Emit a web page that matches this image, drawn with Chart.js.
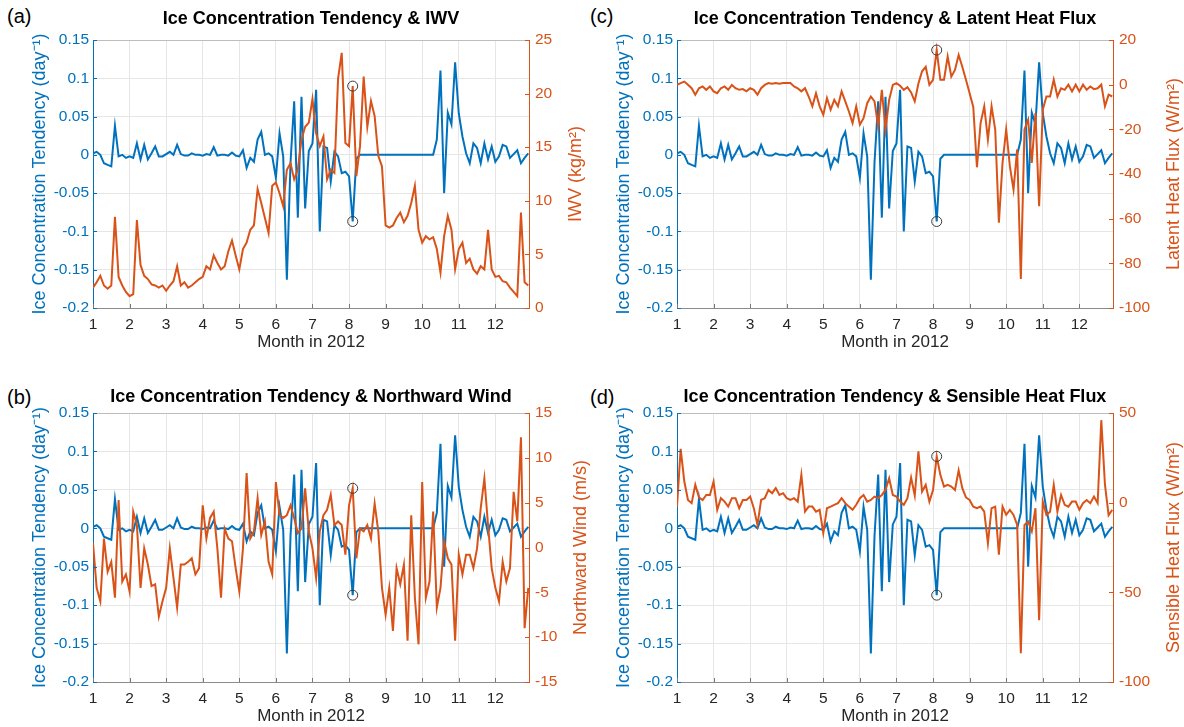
<!DOCTYPE html>
<html>
<head>
<meta charset="utf-8">
<script src="https://cdn.jsdelivr.net/npm/chart.js@4.4.1/dist/chart.umd.min.js"></script>
<style>
  body { margin: 0; background: #fff; width: 1184px; height: 727px; overflow: hidden; position: relative; font-family: "Liberation Sans", Arial, Helvetica, sans-serif; }
  canvas { position: absolute; }
  .tag { position: absolute; font-size: 20px; color: #000; }
</style>
</head>
<body>
<div class="tag" style="left:7px;top:5px">(a)</div>
<div class="tag" style="left:590px;top:5px">(c)</div>
<div class="tag" style="left:7px;top:386px">(b)</div>
<div class="tag" style="left:590px;top:386px">(d)</div>
<canvas id="pa" width="592" height="363" style="left:0;top:0"></canvas>
<canvas id="pc" width="600" height="363" style="left:584px;top:0"></canvas>
<canvas id="pb" width="592" height="364" style="left:0;top:363px"></canvas>
<canvas id="pd" width="600" height="364" style="left:584px;top:363px"></canvas>
<script>
// sample positions, in months of 2012 (every ~3 days)
const months = Array.from({ length: 120 }, (_, i) => +(1 + i / 10).toFixed(1));
const monthTicks = [1, 2, 3, 4, 5, 6, 7, 8, 9, 10, 11, 12];

// ice concentration tendency (day^-1), shared by all panels
const iceTendency = [
  0.002, 0.004, 0, -0.011, -0.013, -0.015, 0.038, -0.002, 0, -0.004,
  -0.002, -0.004, 0.015, -0.006, 0.013, -0.006, 0.002, 0.011, -0.002, -0.002,
  0.001, 0.004, 0, 0.013, 0.001, -0.001, -0.001, 0.002, 0, 0,
  -0.001, 0.001, 0, 0.010, -0.001, 0, 0, -0.001, 0.003, -0.001,
  -0.002, 0.006, -0.017, -0.004, -0.009, 0.020, 0.030, 0, 0.002, -0.002,
  -0.030, 0.028, -0.002, -0.163, -0.010, 0.070, -0.082, 0.076, -0.070, 0.005,
  0.015, 0.085, -0.100, 0.011, 0.009, -0.035, 0.004, -0.002, -0.024, -0.022,
  -0.028, -0.087, -0.005, 0, 0, 0, 0, 0, 0, 0,
  0, 0, 0, 0, 0, 0, 0, 0, 0, 0,
  0, 0, 0, 0, 0.020, 0.110, -0.050, 0.055, 0.040, 0.121,
  0.054, 0.024, 0.002, -0.011, 0.015, 0.009, -0.011, 0.015, -0.006, 0.011,
  -0.009, -0.002, 0.013, 0.011, -0.004, 0.001, 0.006, -0.011, -0.004, 0.002
];
const iwv = [
  1.9, 2.4, 3.0, 2.1, 1.8, 2.1, 8.5, 2.9, 2.1, 1.5,
  1.1, 1.3, 8.2, 4.0, 3.0, 2.7, 2.2, 2.1, 1.9, 2.1,
  1.6, 2.1, 2.5, 3.9, 2.1, 2.4, 1.9, 2.1, 2.4, 2.7,
  2.9, 3.9, 3.6, 4.9, 4.2, 3.6, 3.9, 5.3, 6.3, 4.9,
  3.6, 5.5, 6.1, 7.3, 7.7, 11.1, 9.8, 8.4, 7.0, 11.4,
  11.7, 10.7, 9.5, 12.9, 13.5, 12.0, 12.9, 15.7, 16.9, 17.3,
  19.5, 16.3, 15.1, 16.0, 12.0, 12.9, 12.6, 21.4, 23.8, 15.4,
  15.1, 20.7, 12.3, 15.1, 21.6, 16.9, 19.3, 17.9, 14.2, 13.2,
  7.7, 7.5, 7.7, 8.4, 8.9, 8.0, 8.6, 9.8, 11.4, 7.3,
  6.1, 6.7, 6.4, 6.6, 5.5, 3.3, 6.7, 8.6, 7.3, 3.6,
  5.5, 6.1, 4.2, 4.6, 3.6, 3.2, 3.9, 3.6, 7.3, 3.6,
  2.9, 3.0, 2.5, 2.4, 1.9, 1.5, 1.1, 8.9, 2.4, 2.1
];
const latentHeat = [
  -0.1, 0.7, 1.4, 0, -1.6, -4.5, -1.6, -0.8, -2.3, -0.8,
  -3.0, -3.8, -1.6, -0.8, -2.3, -0.1, -1.6, -2.3, -2.0, -3.0,
  -1.6, -2.3, -4.5, -1.6, -0.1, 0.7, 0.4, 0.7, 0.4, 0.7,
  0.7, 0.7, -0.8, -1.6, -3.0, -1.6, -5.3, -9.7, -3.8, -9.7,
  -13.5, -6.0, -11.2, -6.8, -9.7, -3.0, -7.5, -12.0, -17.2, -9.7,
  -17.9, -15.0, -8.3, -5.3, -7.5, -18.7, -2.3, -20.1, -6.8, -0.1,
  0.7, -0.5, -2.3, -1.1, -3.5, -7.5, 0.5, 6.0, 8.0, -0.1,
  2.2, 15.5, 2.2, 2.2, 12.6, 3.6, 6.6, 13.3, 8.0, 2.2,
  -3.8, -10.0, -37.0, -17.2, -9.7, -24.6, -9.7, -20.1, -61.8, -35.0,
  -20.0, -36.5, -47.0, -29.0, -87.0, -20.0, -15.7, -35.0, -12.7, -54.4,
  -11.2, -5.3, -5.3, 2.2, -5.3, -1.6, -2.3, 0, -3.0, 0,
  -3.0, 0, -2.3, -0.8, -2.0, -1.6, 0, -9.7, -4.5, -5.3
];
const northwardWind = [
  0.5, -4.5, -6.0, 1.0, -2.7, -1.6, -5.6, 5.3, -3.8, -3.0,
  -4.9, 4.0, 2.5, -4.5, -0.1, -1.9, -4.3, -4.1, -7.7, -6.0,
  -4.5, -0.1, -3.4, -6.7, -1.9, -1.9, -1.6, -1.2, -3.0, -2.3,
  4.7, 1.0, 3.3, 4.0, -0.1, -5.6, 2.1, 1.0, 0.7, -2.3,
  -4.9, -0.1, 8.3, 1.0, 1.8, 5.5, 1.4, 2.9, -1.6, -3.0,
  7.3, 3.6, 3.3, 3.6, 4.7, 3.3, 1.6, 2.1, 6.6, 1.8,
  -0.1, -3.4, 1.8, 3.6, 4.2, 5.9, 2.5, 2.9, 2.5, -0.8,
  4.7, 6.6, -1.2, 2.1, 1.8, 2.5, 1.0, 4.9, 1.8, -4.5,
  -7.5, -4.5, -9.3, -2.3, -4.1, -1.9, -10.4, 3.6, -5.6, -10.8,
  7.3, -5.6, -3.8, 4.0, -6.7, -4.5, 0.7, -1.2, -1.9, -10.4,
  -0.8, -3.0, -0.8, -0.8, -2.3, -0.1, 4.4, 7.7, 2.5, -2.3,
  -4.5, -6.0, -1.6, -3.8, -2.3, 6.2, 2.9, 12.3, -9.0, -4.5
];
const sensibleHeat = [
  -2.2, 30.0, 11.8, 1.5, -0.3, 10.0, 3.0, 1.5, 4.3, 4.3,
  11.8, -4.0, 2.5, 0.6, -2.2, 2.5, 2.5, -3.1, 1.5, 1.5,
  3.4, -3.1, -12.4, 1.5, 2.5, 7.1, 5.3, 8.1, 4.3, 5.3,
  2.5, 1.5, 2.5, 0.6, 15.5, -5.0, -2.2, -2.2, -5.0, -4.0,
  -17.0, -3.1, -2.2, -1.2, -0.3, 2.5, -0.3, -2.2, -4.0, -1.2,
  2.5, 4.3, 0.6, 1.5, 3.4, 2.5, 4.3, 7.1, 13.7, 4.3,
  3.4, 0.6, -1.2, 2.5, 14.0, 4.0, 28.6, 6.2, 9.9, 0.6,
  7.1, 25.8, 15.5, 9.0, 9.9, 9.0, 7.1, 18.0, 8.1, 2.9,
  1.5, -2.2, -3.1, -2.2, -5.0, -22.7, -3.1, -2.2, -29.0, -2.2,
  -6.8, -4.0, -6.8, -12.4, -84.0, -12.4, -10.5, -16.0, -3.1, -65.5,
  0.6, -6.8, -5.0, 9.9, -5.0, 4.3, -1.2, -2.2, 0.6, 0.6,
  -4.0, -0.3, 1.5, -0.3, 3.4, -0.3, 46.0, 10.0, -7.0, -4.0
];

// tick values
const iceTicks = [-0.2, -0.15, -0.1, -0.05, 0, 0.05, 0.1, 0.15];
const iwvTicks = [0, 5, 10, 15, 20, 25];
const latentTicks = [-100, -80, -60, -40, -20, 0, 20];
const windTicks = [-15, -10, -5, 0, 5, 10, 15];
const sensibleTicks = [-100, -50, 0, 50];

// circled sample (about 8.1 month)
const markMonth = 8.1;

const BLUE = '#0072BD';
const ORANGE = '#D95319';
const FONT = '"Liberation Sans", Arial, Helvetica, sans-serif';
Chart.defaults.font.family = FONT;

const rightTitle = {
  id: 'rightTitle',
  afterDraw(chart, args, opts) {
    const { ctx, chartArea } = chart;
    ctx.save();
    ctx.translate(chartArea.right + opts.offset, (chartArea.top + chartArea.bottom) / 2);
    ctx.rotate(-Math.PI / 2);
    ctx.font = '18px ' + FONT;
    ctx.fillStyle = ORANGE;
    ctx.textAlign = 'center';
    ctx.textBaseline = 'middle';
    ctx.fillText(opts.text, 0, 0);
    ctx.restore();
  }
};

// inward tick marks and top edge like the original axes
const innerTicks = {
  id: 'innerTicks',
  afterDraw(chart) {
    const { ctx, chartArea: a, scales } = chart;
    const line = (x1, y1, x2, y2) => { ctx.beginPath(); ctx.moveTo(x1, y1); ctx.lineTo(x2, y2); ctx.stroke(); };
    ctx.save();
    ctx.lineWidth = 1;
    ctx.strokeStyle = '#bdbdbd';
    line(a.left, a.top + 0.5, a.right, a.top + 0.5);
    ctx.strokeStyle = '#777';
    scales.x.ticks.forEach(t => {
      const px = Math.round(scales.x.getPixelForValue(t.value)) + 0.5;
      line(px, a.bottom, px, a.bottom - 4);
    });
    ctx.strokeStyle = BLUE;
    scales.y.ticks.forEach(t => {
      const py = Math.round(scales.y.getPixelForValue(t.value)) + 0.5;
      line(a.left, py, a.left + 4, py);
    });
    ctx.strokeStyle = ORANGE;
    scales.y2.ticks.forEach(t => {
      const py = Math.round(scales.y2.getPixelForValue(t.value)) + 0.5;
      line(a.right - 4, py, a.right, py);
    });
    ctx.restore();
  }
};

function fmt(v) {
  return String(Number(v.toFixed(2)));
}

function makePanel(id, p) {
  const idx = months.indexOf(markMonth);
  const pts = arr => months.map((m, i) => ({ x: m, y: arr[i] }));
  return new Chart(document.getElementById(id), {
    type: 'line',
    data: {
      datasets: [
        {
          data: [{ x: months[idx], y: p.series[idx] }], yAxisID: 'y2', showLine: false,
          pointRadius: 5, pointBorderColor: '#3a3a3a', pointBackgroundColor: 'rgba(0,0,0,0)', pointBorderWidth: 1, order: 0
        },
        {
          data: [{ x: months[idx], y: iceTendency[idx] }], yAxisID: 'y', showLine: false,
          pointRadius: 5, pointBorderColor: '#3a3a3a', pointBackgroundColor: 'rgba(0,0,0,0)', pointBorderWidth: 1, order: 0
        },
        { data: pts(p.series), yAxisID: 'y2', borderColor: ORANGE, borderWidth: 2, pointRadius: 0, tension: 0, order: 1 },
        { data: pts(iceTendency), yAxisID: 'y', borderColor: BLUE, borderWidth: 2, pointRadius: 0, tension: 0, order: 2 },
      ],
    },
    options: {
      responsive: false,
      animation: false,
      events: [],
      layout: { padding: 0 },
      plugins: {
        legend: { display: false },
        tooltip: { enabled: false },
        title: {
          display: true,
          fullSize: false,
          text: p.title,
          color: '#000',
          font: { size: 18, weight: 'bold' },
          padding: { top: p.titleTop, bottom: p.titleBottom },
        },
        rightTitle: { text: p.rightLabel, offset: p.rightOffset },
      },
      scales: {
        x: {
          type: 'linear',
          min: 1,
          max: 12.92,
          afterBuildTicks: s => { s.ticks = monthTicks.map(v => ({ value: v })); },
          afterFit: s => { s.height = p.xh; },
          ticks: { color: '#262626', font: { size: 15.5 }, padding: 7, maxRotation: 0, callback: v => String(v) },
          grid: { color: '#e6e6e6', drawTicks: false },
          border: { color: '#8c8c8c' },
          title: { display: true, text: 'Month in 2012', color: '#262626', font: { size: 17 }, padding: { top: 0, bottom: p.xTitlePad } },
        },
        y: {
          position: 'left',
          min: -0.2,
          max: 0.15,
          afterBuildTicks: s => { s.ticks = iceTicks.map(v => ({ value: v })); },
          afterFit: s => { s.width = 93; },
          ticks: { color: BLUE, font: { size: 15.5 }, padding: 4, callback: v => fmt(v) },
          grid: { color: '#e6e6e6', drawTicks: false },
          border: { color: BLUE },
          title: { display: true, text: 'Ice Concentration Tendency (day⁻¹)', color: BLUE, font: { size: 18 }, padding: { top: 29, bottom: 0 } },
        },
        y2: {
          position: 'right',
          min: p.min,
          max: p.max,
          afterBuildTicks: s => { s.ticks = p.ticks.map(v => ({ value: v })); },
          afterFit: s => { s.width = p.rw; },
          ticks: { color: ORANGE, font: { size: 15.5 }, padding: 6, callback: v => String(v) },
          grid: { drawOnChartArea: false, drawTicks: false },
          border: { color: ORANGE },
        },
      },
    },
    plugins: [rightTitle, innerTicks],
  });
}

const topRow = { titleTop: 8.2, titleBottom: 10.2, xh: 55, xTitlePad: 10 };
const bottomRow = { titleTop: 23.2, titleBottom: 5.2, xh: 45, xTitlePad: 0 };

makePanel('pa', Object.assign({}, topRow, {
  title: 'Ice Concentration Tendency & IWV', series: iwv, min: 0, max: 25, ticks: iwvTicks,
  rightLabel: 'IWV (kg/m²)', rw: 63, rightOffset: 47,
}));
makePanel('pc', Object.assign({}, topRow, {
  title: 'Ice Concentration Tendency & Latent Heat Flux', series: latentHeat, min: -100, max: 20, ticks: latentTicks,
  rightLabel: 'Latent Heat Flux (W/m²)', rw: 71, rightOffset: 61,
}));
makePanel('pb', Object.assign({}, bottomRow, {
  title: 'Ice Concentration Tendency & Northward Wind', series: northwardWind, min: -15, max: 15, ticks: windTicks,
  rightLabel: 'Northward Wind (m/s)', rw: 63, rightOffset: 52,
}));
makePanel('pd', Object.assign({}, bottomRow, {
  title: 'Ice Concentration Tendency & Sensible Heat Flux', series: sensibleHeat, min: -100, max: 50, ticks: sensibleTicks,
  rightLabel: 'Sensible Heat Flux (W/m²)', rw: 71, rightOffset: 61,
}));
</script>
</body>
</html>
